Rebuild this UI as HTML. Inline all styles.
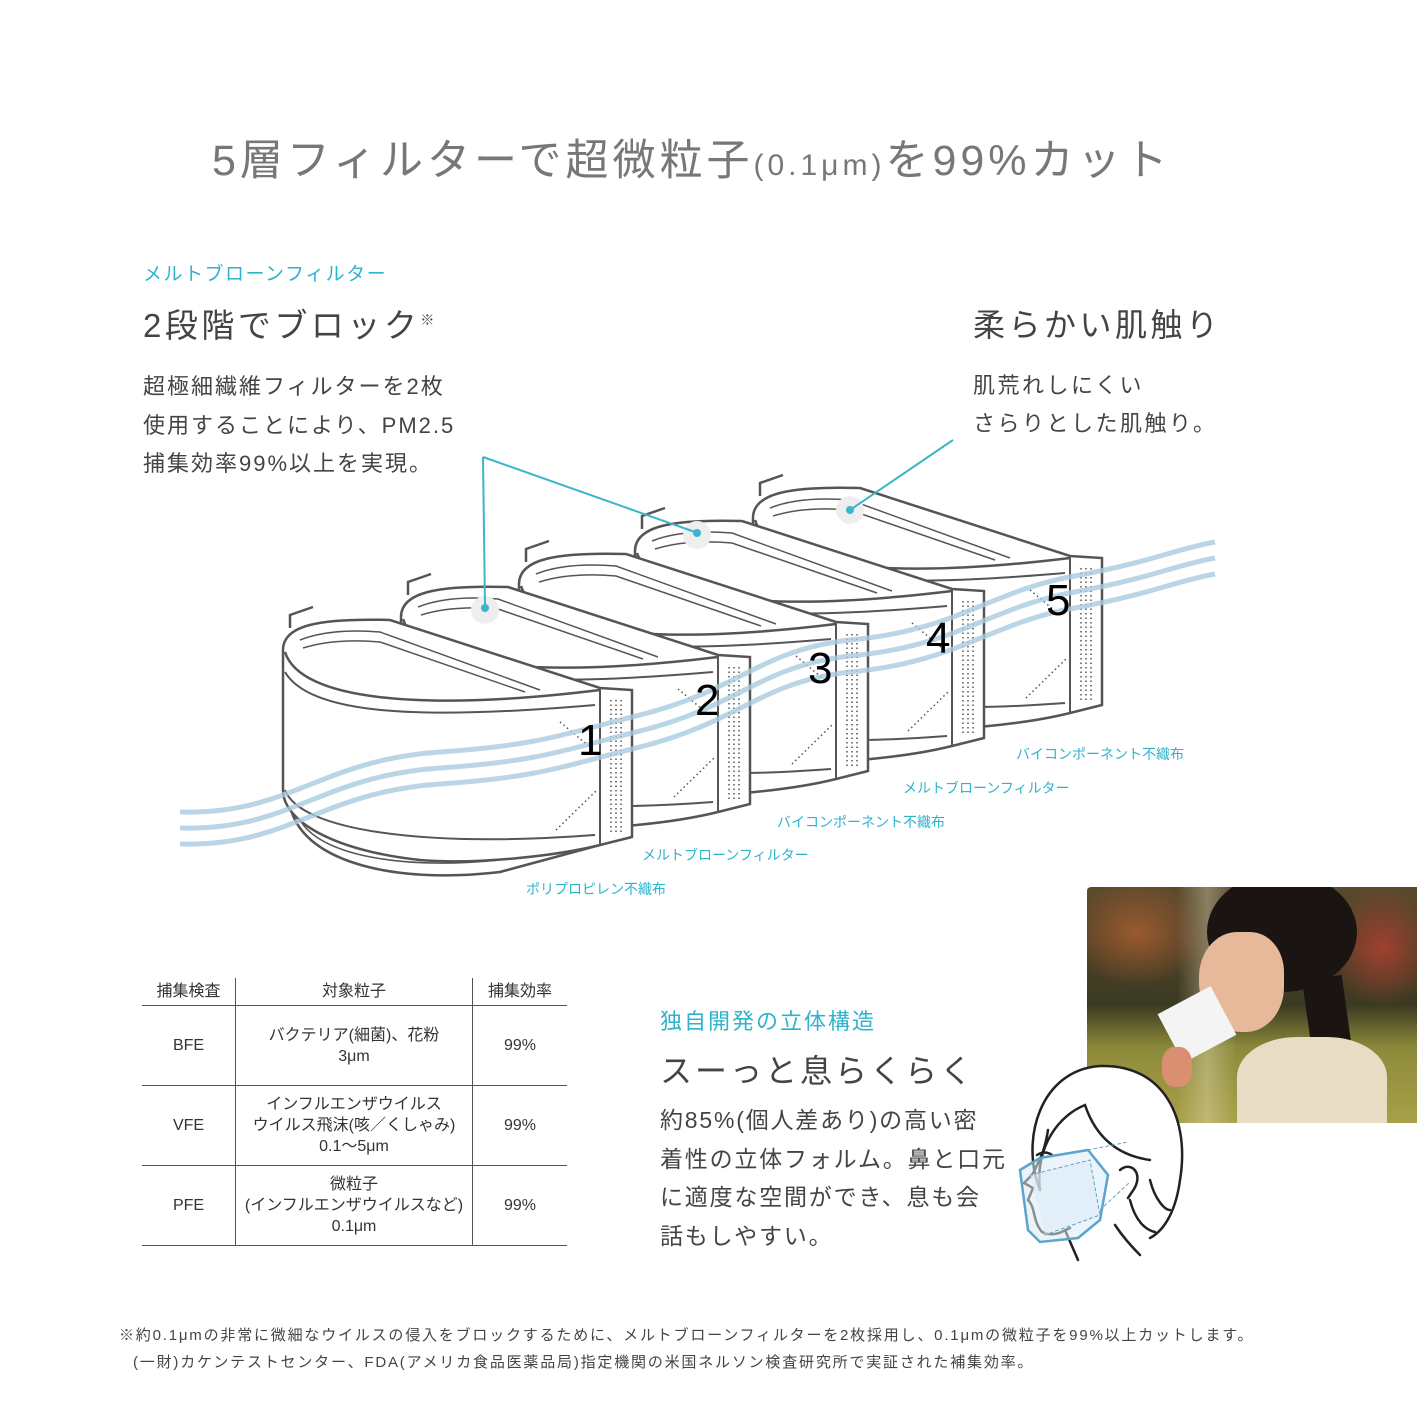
<!DOCTYPE html>
<html><head><meta charset="utf-8"><style>
body{margin:0;background:#fff;}
#c{position:relative;width:1417px;height:1417px;overflow:hidden;font-family:"Liberation Sans","Noto Sans CJK JP",sans-serif;color:#444;}
.t{position:absolute;white-space:nowrap;}
.cy{color:#2fb3cc;}
table{position:absolute;left:142px;top:978px;border-collapse:collapse;font-size:16px;color:#333;}
td{border-right:1px solid #555;border-bottom:1px solid #555;text-align:center;padding:0;line-height:21px;}
td:last-child{border-right:none;}
tr.h td{border-bottom:1px solid #555;height:27px;}
tr.r td{height:79px;}
</style></head><body><div id="c">
<div class="t" style="left:212px;top:126px;font-size:43px;color:#777;letter-spacing:4px;">5層フィルターで超微粒子<span style="font-size:30px">(0.1μm)</span>を99%カット</div>

<div class="t cy" style="left:143px;top:259px;font-size:19px;letter-spacing:1.5px;">メルトブローンフィルター</div>
<div class="t" style="left:143px;top:299px;font-size:33px;color:#444;letter-spacing:3.5px;">2段階でブロック<sup style="font-size:14px">※</sup></div>
<div class="t" style="left:143px;top:368px;font-size:22px;line-height:38.5px;letter-spacing:2px;color:#444;">超極細繊維フィルターを2枚<br>使用することにより、PM2.5<br>捕集効率99%以上を実現。</div>

<div class="t" style="left:973px;top:300px;font-size:32px;letter-spacing:3.5px;color:#444;">柔らかい肌触り</div>
<div class="t" style="left:973px;top:367px;font-size:22px;line-height:38px;letter-spacing:2.5px;color:#444;">肌荒れしにくい<br>さらりとした肌触り。</div>

<svg style="position:absolute;left:0;top:0" width="1417" height="1000">
<defs>
<g id="L" fill="none" stroke="#555" stroke-width="2.5">
<path d="M283,650 C283,625 320,618 390,620 L600,688 L632,690 L632,837 L600,845 C560,855 480,865 420,860 C330,850 283,820 283,790 Z" fill="#fff"/>
<path d="M290,628 L290,615 L313,607"/>
<path d="M300,640 Q330,628 380,632 L540,690" stroke-width="1.5"/>
<path d="M303,648 Q335,638 380,642 L525,692" stroke-width="1.5"/>
<path d="M285,652 C300,700 420,712 600,690"/>
<path d="M285,672 C310,715 420,720 595,705" stroke-width="2"/>
<path d="M285,790 C300,830 420,848 595,835" stroke-width="2"/>
<path d="M600,688 L600,845" stroke-width="2"/>
<g stroke-dasharray="1.5 3" stroke-width="1.5"><path d="M611,700V832M616,700V832M621,700V832"/><path d="M560,722L590,747"/><path d="M556,830L597,790"/></g>
</g>
</defs>
<use href="#L" transform="translate(470,-132)"/>
<use href="#L" transform="translate(352,-99)"/>
<use href="#L" transform="translate(236,-66)"/>
<use href="#L" transform="translate(118,-33)"/>
<path d="M290,805 C300,860 390,885 500,872 L600,845" fill="#fff" stroke="#555" stroke-width="2.5"/>
<path d="M300,820 C320,855 400,870 500,860" fill="none" stroke="#555" stroke-width="1.5"/>
<use href="#L"/>
<g fill="none" stroke="#a9cbe0" stroke-width="5" opacity="0.8">
<path d="M180,812 C290,815 320,760 440,752 C540,745 560,735 640,715 C740,690 760,650 850,640 C960,630 990,590 1080,575 C1150,562 1180,548 1215,542"/>
<path d="M180,828 C290,831 320,776 440,768 C540,761 560,751 640,731 C740,706 760,666 850,656 C960,646 990,606 1080,591 C1150,578 1180,564 1215,558"/>
<path d="M180,844 C290,847 320,792 440,784 C540,777 560,767 640,747 C740,722 760,682 850,672 C960,662 990,622 1080,607 C1150,594 1180,580 1215,574"/>
</g>
<g font-size="44" fill="#000" font-family="Liberation Sans,sans-serif">
<text x="578" y="755">1</text><text x="695" y="715">2</text><text x="808" y="683">3</text><text x="926" y="653">4</text><text x="1046" y="615">5</text></g>
<g fill="#eee"><circle cx="485" cy="610" r="14"/><circle cx="697" cy="535" r="14"/><circle cx="850" cy="510" r="14"/></g>
<g stroke="#3bb5cc" stroke-width="2" fill="none"><path d="M483,457 L485,607 M483,457 L695,532 M953,440 L850,510"/></g>
<g fill="#3bb5cc"><circle cx="485" cy="608" r="4"/><circle cx="697" cy="533" r="4"/><circle cx="850" cy="510" r="4"/></g>
<g font-size="14" fill="#2fb3cc" font-family="Liberation Sans,Noto Sans CJK JP,sans-serif">
<text x="1016" y="759">バイコンポーネント不織布</text>
<text x="903" y="793">メルトブローンフィルター</text>
<text x="777" y="827">バイコンポーネント不織布</text>
<text x="642" y="860">メルトブローンフィルター</text>
<text x="526" y="894">ポリプロピレン不織布</text>
</g>
</svg>

<table>
<tr class="h"><td style="width:93px">捕集検査</td><td style="width:236px">対象粒子</td><td style="width:94px">捕集効率</td></tr>
<tr class="r"><td>BFE</td><td>バクテリア(細菌)、花粉<br>3μm</td><td>99%</td></tr>
<tr class="r"><td>VFE</td><td>インフルエンザウイルス<br>ウイルス飛沫(咳／くしゃみ)<br>0.1～5μm</td><td>99%</td></tr>
<tr class="r"><td>PFE</td><td>微粒子<br>(インフルエンザウイルスなど)<br>0.1μm</td><td>99%</td></tr>
</table>

<div class="t cy" style="left:660px;top:1004px;font-size:22px;letter-spacing:2px;">独自開発の立体構造</div>
<div class="t" style="left:660px;top:1046px;font-size:32px;letter-spacing:3px;color:#444;">スーっと息らくらく</div>
<div class="t" style="left:660px;top:1101px;font-size:23px;line-height:38.5px;letter-spacing:1.8px;color:#444;">約85%(個人差あり)の高い密<br>着性の立体フォルム。鼻と口元<br>に適度な空間ができ、息も会<br>話もしやすい。</div>

<div style="position:absolute;left:1087px;top:887px;width:330px;height:236px;border-radius:4px 0 0 0;overflow:hidden;background:linear-gradient(180deg,#5a4a2c 0%,#4a3e24 30%,#3a3a22 50%,#8c8a3a 68%,#a8a048 100%);">
<div style="position:absolute;left:-20px;top:-10px;width:140px;height:110px;background:radial-gradient(#9a5a30,transparent 70%);"></div>
<div style="position:absolute;left:240px;top:0px;width:110px;height:120px;background:radial-gradient(#a04030,transparent 70%);"></div>
<div style="position:absolute;left:90px;top:0px;width:60px;height:236px;background:linear-gradient(90deg,transparent,rgba(240,230,200,0.35),transparent);"></div>
<div style="position:absolute;left:120px;top:-15px;width:150px;height:120px;border-radius:50%;background:#1a1512;"></div>
<div style="position:absolute;left:112px;top:45px;width:85px;height:100px;border-radius:45% 40% 45% 50%;background:#e8b89a;"></div>
<div style="position:absolute;left:225px;top:90px;width:40px;height:146px;background:#1a1512;transform:rotate(-8deg);"></div>
<div style="position:absolute;left:150px;top:150px;width:150px;height:100px;border-radius:40% 40% 0 0;background:#e9dcc4;"></div>
<div style="position:absolute;left:80px;top:110px;width:60px;height:55px;background:#f4f4f4;transform:rotate(-28deg);"></div>
<div style="position:absolute;left:75px;top:160px;width:30px;height:40px;border-radius:40%;background:#d89070;"></div>
</div>

<svg style="position:absolute;left:1000px;top:1060px" width="200" height="210" fill="none" stroke="#222" stroke-width="2.5" stroke-linecap="round">
<path d="M40,130 C20,80 40,10 100,6 C165,4 190,60 180,120 C176,150 165,170 150,178 L140,185 L120,170 L110,190 L85,200 L60,170 Z" fill="#fff" stroke="none"/>
<path d="M40,130 C20,80 40,10 100,6 C165,4 190,60 180,120 C176,150 165,170 150,178"/>
<path d="M40,130 C35,85 60,55 85,45 C95,75 115,95 150,100"/>
<path d="M48,70 C45,90 40,100 32,115 L24,123 L33,128 L28,140 C36,148 32,160 42,172 C55,178 65,170 70,168"/>
<path d="M120,110 C132,100 145,115 132,132 L128,138"/>
<path d="M65,170 L78,200 M115,165 C125,180 135,190 140,195 M130,140 C135,160 145,170 155,172 M150,120 C155,140 165,150 170,150"/>
<path d="M37,95 Q45,90 52,95"/>
<g stroke="#5aa5cc" stroke-width="2.5" fill="rgba(220,235,245,0.55)"><path d="M20,110 L40,98 L88,90 L108,115 L100,160 L78,178 L40,182 L28,170 Z"/><path d="M88,90 L128,82 M100,150 L130,122 M30,115 L90,100 L100,155 L45,175" stroke-dasharray="3 3" stroke-width="1"/></g>
</svg>

<div class="t" style="left:119px;top:1324px;font-size:15px;color:#444;letter-spacing:1.8px;">※約0.1μmの非常に微細なウイルスの侵入をブロックするために、メルトブローンフィルターを2枚採用し、0.1μmの微粒子を99%以上カットします。</div>
<div class="t" style="left:133px;top:1351px;font-size:15px;color:#444;letter-spacing:1.8px;">(一財)カケンテストセンター、FDA(アメリカ食品医薬品局)指定機関の米国ネルソン検査研究所で実証された補集効率。</div>
</div></body></html>
